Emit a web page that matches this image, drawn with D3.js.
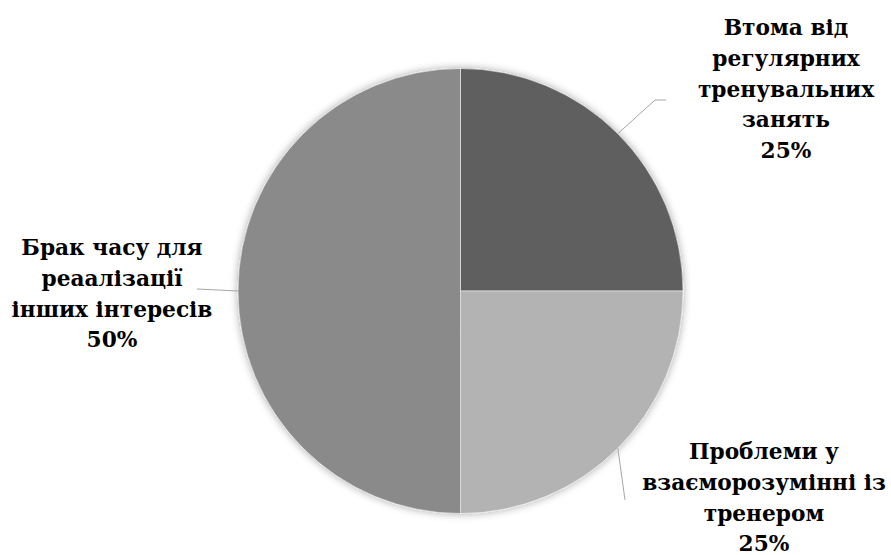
<!DOCTYPE html>
<html><head><meta charset="utf-8">
<script src="https://cdn.jsdelivr.net/npm/d3@7"></script>
<style>html,body{margin:0;padding:0;background:#fff;}svg{display:block;}</style>
</head><body>
<svg id="chart" width="891" height="555"></svg>
<script>
const categories = [
  ["Втома від", "регулярних", "тренувальних", "занять"],
  ["Проблеми у", "взаєморозумінні із", "тренером"],
  ["Брак часу для", "реаалізації", "інших інтересів"]
];
const values = [25, 25, 50];
const percentLabels = ["25%", "25%", "50%"];
const colors = ["#5f5f5f", "#b3b3b3", "#8a8a8a"];

const svg = d3.select("#chart");
const cx = 460.5, cy = 291, R = 222.5;

const defs = svg.append("defs");
const f = defs.append("filter").attr("id","shadow").attr("x","-20%").attr("y","-20%").attr("width","140%").attr("height","140%");
f.append("feGaussianBlur").attr("in","SourceAlpha").attr("stdDeviation",4).attr("result","b");
f.append("feComponentTransfer").attr("in","b").attr("result","s").append("feFuncA").attr("type","linear").attr("slope",0.35);
const m = f.append("feMerge");
m.append("feMergeNode").attr("in","s");
m.append("feMergeNode").attr("in","SourceGraphic");

const pie = d3.pie().sort(null).value(d => d)(values);
const arc = d3.arc().innerRadius(0).outerRadius(R);

const g = svg.append("g").attr("transform", `translate(${cx},${cy})`);
const slices = g.append("g").attr("filter","url(#shadow)");
slices.selectAll("path").data(pie).join("path")
  .attr("d", arc)
  .attr("fill", (d,i) => colors[i])
  .attr("stroke", "#ffffff")
  .attr("stroke-opacity", 0.5)
  .attr("stroke-width", 1);

const leaderEnds = [
  [[655 - cx, 100 - cy], [666 - cx, 100 - cy]],
  [[625 - cx, 500 - cy]],
  [[197 - cx, 289 - cy]]
];
pie.forEach((d,i) => {
  const a = (d.startAngle + d.endAngle) / 2;
  const p0 = [Math.sin(a) * R, -Math.cos(a) * R];
  g.append("path")
    .attr("d", d3.line()([p0, ...leaderEnds[i]]))
    .attr("fill","none")
    .attr("stroke","#a6a6a6")
    .attr("stroke-width",1);
});

const labelPos = [
  {x: 786, y: 35},
  {x: 764, y: 459},
  {x: 112, y: 255}
];
const lh = 30.8;
categories.forEach((lines, i) => {
  const t = svg.append("text")
    .attr("x", labelPos[i].x)
    .attr("y", labelPos[i].y)
    .attr("text-anchor","middle")
    .attr("font-family","'DejaVu Serif', serif")
    .attr("font-weight","bold")
    .attr("font-size", 21.7)
    .attr("fill","#000");
  [...lines, percentLabels[i]].forEach((s, j) => {
    t.append("tspan").attr("x", labelPos[i].x).attr("y", labelPos[i].y + j*lh).text(s);
  });
});
</script>
</body></html>
